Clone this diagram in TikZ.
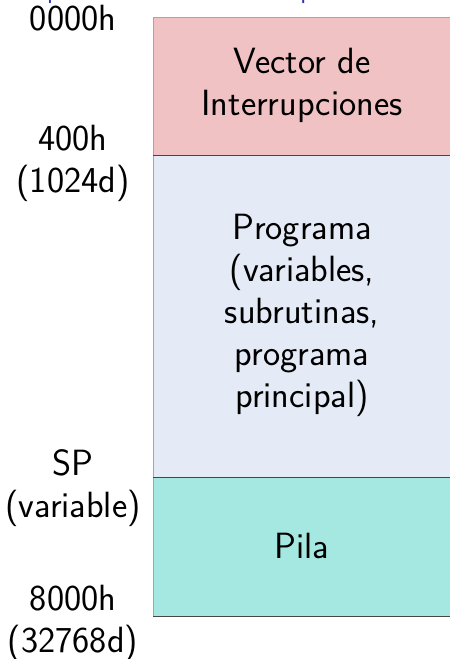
\documentclass[tikz,border=0pt]{standalone}
\usepackage{fontspec}
\begin{document}
\begin{tikzpicture}[x=1pt,y=-1pt,
  every node/.style={font=\sffamily\fontsize{36.5}{42}\selectfont, inner sep=0pt},
  blk/.style={rectangle, minimum width=298pt, anchor=north west},
  ln/.style={anchor=base}]
\definecolor{pinkblk}{RGB}{240,194,196}
\definecolor{blueblk}{RGB}{228,234,246}
\definecolor{tealblk}{RGB}{165,232,226}
\definecolor{edgegray}{RGB}{170,165,165}
\definecolor{divgray}{RGB}{70,70,70}
\definecolor{titleblue}{rgb}{0.2,0.2,0.7}
\useasboundingbox (0,0) rectangle (450,659);
\clip (0,0) rectangle (450,659);
% clipped title above
\node[anchor=base west, text=titleblue, font=\sffamily\fontsize{26}{30}\selectfont] (title) at (14,-1.5) {Mapa de memoria del microprocesador};
% blocks
\node[blk, fill=pinkblk, minimum height=138pt] (vec) at (153,17) {};
\node[blk, fill=blueblk, minimum height=322pt] (prog) at (153,155) {};
\node[blk, fill=tealblk, minimum height=139pt] (pila) at (153,477) {};
% block texts
\node[ln] (tvec1) at (302,73) {Vector de};
\node[ln] (tvec2) at (302,115) {Interrupciones};
\node[ln] (tprog1) at (302,239) {Programa};
\node[ln] (tprog2) at (302,281) {(variables,};
\node[ln] (tprog3) at (302,323) {subrutinas,};
\node[ln] (tprog4) at (302,365) {programa};
\node[ln] (tprog5) at (302,407) {principal)};
\node[ln] (tpila) at (302,558) {Pila};
% edges
\draw[edgegray, line width=1pt] (vec.south west) -- (vec.north west) -- (vec.north east);
\draw[edgegray, line width=1pt] (prog.north west) -- (pila.south west);
\draw[divgray, line width=1pt] (vec.south west) -- (vec.south east);
\draw[divgray, line width=1pt] (prog.south west) -- (prog.south east);
\draw[divgray, line width=1pt] (pila.south west) -- (pila.south east);
% labels
\node[ln] (l0) at (73,30) {0000h};
\node[ln] (l1a) at (73,150) {400h};
\node[ln] (l1b) at (73,192) {(1024d)};
\node[ln] (l2a) at (73,475) {SP};
\node[ln] (l2b) at (73,517) {(variable)};
\node[ln] (l3a) at (73,610) {8000h};
\node[ln] (l3b) at (73,652) {(32768d)};
\end{tikzpicture}
\end{document}
